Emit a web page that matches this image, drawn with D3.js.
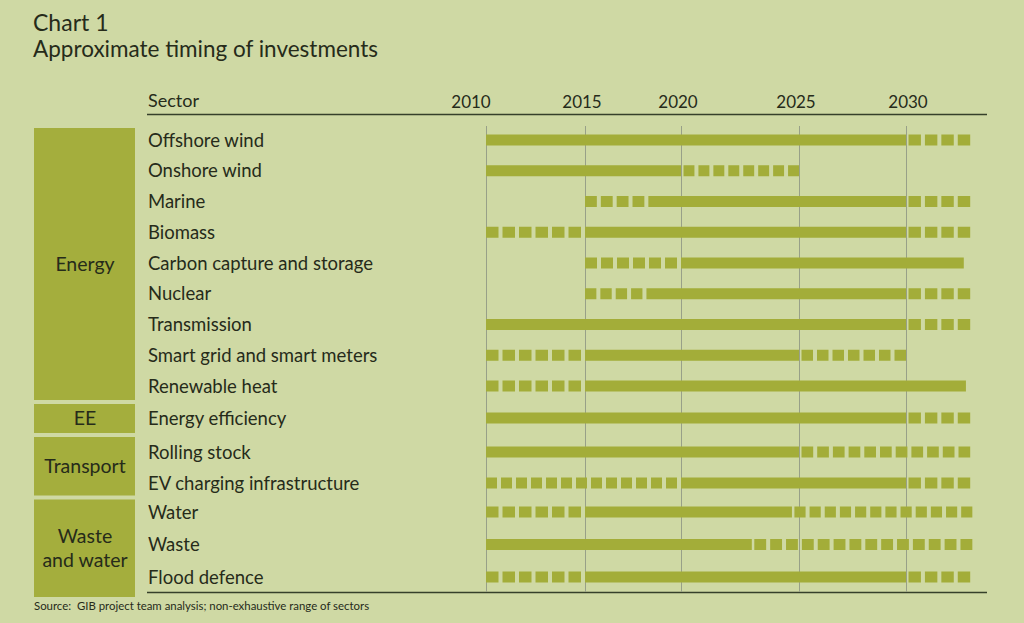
<!DOCTYPE html>
<html><head><meta charset="utf-8">
<script src="https://cdn.jsdelivr.net/npm/d3@7"></script>
<style>
html,body{margin:0;padding:0;background:#cfd9a4;}
svg{display:block;}
text{font-family:Lato,"Open Sans",sans-serif;fill:#262b1a;}
</style></head><body>
<svg id="c" width="1024" height="623"></svg>
<script>
// ---------- data ----------
const sectors = ["Offshore wind","Onshore wind","Marine","Biomass","Carbon capture and storage","Nuclear","Transmission","Smart grid and smart meters","Renewable heat","Energy efficiency","Rolling stock","EV charging infrastructure","Water","Waste","Flood defence"];
const groupNames = [["Energy"],["EE"],["Transport"],["Waste","and water"]];
const groupFirst = [0, 9, 10, 12];
const groupLast  = [8, 9, 11, 14];
const yearTicks = [2010, 2015, 2020, 2025, 2030];
// phases per sector: [startYear, endYear, kind] kind: "s" solid, "d" dotted
const phases = [
  [[2010,2030,"s"],[2030,2033,"d"]],
  [[2010,2020,"s"],[2020,2025,"d"]],
  [[2015,2018.3,"d"],[2018.3,2030,"s"],[2030,2033,"d"]],
  [[2010,2015,"d"],[2015,2030,"s"],[2030,2033,"d"]],
  [[2015,2020,"d"],[2020,2032.7,"s"]],
  [[2015,2018.2,"d"],[2018.2,2030,"s"],[2030,2033,"d"]],
  [[2010,2030,"s"],[2030,2033,"d"]],
  [[2010,2015,"d"],[2015,2025,"s"],[2025,2030,"d"]],
  [[2010,2015,"d"],[2015,2032.8,"s"]],
  [[2010,2030,"s"],[2030,2033,"d"]],
  [[2010,2025,"s"],[2025,2033,"d"]],
  [[2010,2020,"d"],[2020,2030,"s"],[2030,2033,"d"]],
  [[2010,2015,"d"],[2015,2024.7,"s"],[2024.7,2033.1,"d"]],
  [[2010,2023,"s"],[2023,2033.1,"d"]],
  [[2010,2015,"d"],[2015,2030,"s"],[2030,2033,"d"]]
];
const titleText = "Chart 1";
const subtitleText = "Approximate timing of investments";
const sourceText = "Source:\u00a0\u00a0GIB project team analysis; non-exhaustive range of sectors";

// ---------- layout ----------
const svg = d3.select("#c");
const barColor = "#a3ad39";
const boxColor = "#a4ae3d";
const x = d3.scaleLinear().domain([2010,2015,2020,2025,2030,2035]).range([486,585,681,799,906,1013]);
const y = d3.scaleLinear().domain([0,8,9,10,11,12,14]).range([140,386,418,452,483,512,577]);
const barH = 11;

svg.append("text").attr("x",33).attr("y",31).style("font-size","23px").text(titleText);
svg.append("text").attr("x",33).attr("y",57).style("font-size","22.5px").text(subtitleText);

// header
svg.append("text").attr("x",148).attr("y",107).style("font-size","18px").text("Sector");
svg.selectAll("text.year").data(yearTicks).join("text").attr("class","year")
  .attr("x",(d,i)=>x(d) + (i===0 ? -15 : (i===4 ? 2 : -3))).attr("y",108).attr("text-anchor","middle")
  .style("font-size","17px").text(d=>d);
svg.append("line").attr("x1",147).attr("x2",987).attr("y1",114.5).attr("y2",114.5)
  .attr("stroke","#36402a").attr("stroke-width",1.3);
svg.append("line").attr("x1",147).attr("x2",987).attr("y1",592.5).attr("y2",592.5)
  .attr("stroke","#36402a").attr("stroke-width",1.3);

// grid
svg.selectAll("line.grid").data(yearTicks).join("line").attr("class","grid")
  .attr("x1",d=>Math.round(x(d))+0.5).attr("x2",d=>Math.round(x(d))+0.5)
  .attr("y1",126).attr("y2",592).attr("stroke","#98a088").attr("stroke-width",1);

// group boxes
const boxTop = (g)=> g===0 ? y(groupFirst[g])-12 : (y(groupLast[g-1])+y(groupFirst[g]))/2+2;
const boxBot = (g)=> g===groupNames.length-1 ? y(groupLast[g])+20 : (y(groupLast[g])+y(groupFirst[g+1]))/2-2;
groupNames.forEach((nm,g)=>{
  const t = boxTop(g), b = boxBot(g);
  svg.append("rect").attr("x",34).attr("y",t).attr("width",101).attr("height",b-t).attr("fill",boxColor);
  const cy = (t+b)/2, lh = 24;
  nm.forEach((line,k)=>{
    svg.append("text").attr("x",85).attr("y",cy + (k-(nm.length-1)/2)*lh + 6.5)
      .attr("text-anchor","middle").style("font-size","19.5px").text(line);
  });
});

// sector labels
svg.selectAll("text.sector").data(sectors).join("text").attr("class","sector")
  .attr("x",148).attr("y",(d,i)=>y(i)+6.5).style("font-size","18.5px").text(d=>d);

// bars
const sq = 11.5, gap = 4;
phases.forEach((row,i)=>{
  const g = svg.append("g");
  row.forEach((p,k)=>{
    const [a,b,kind] = p;
    if (kind==="s") {
      g.append("rect").attr("x",x(a)).attr("y",y(i)-barH/2).attr("width",x(b)-x(a)).attr("height",barH).attr("fill",barColor);
    } else {
      const prevSolid = k>0 && row[k-1][2]==="s";
      const nextSolid = k<row.length-1 && row[k+1][2]==="s";
      const xs = x(a) + (prevSolid ? 2.5 : 0);
      const xe = x(b) - (nextSolid ? 4 : 0);
      const len = xe - xs;
      const n = Math.max(1, Math.round((len+gap)/(sq+gap)));
      const dash = (len-(n-1)*gap)/n;
      g.append("line").attr("x1",xs).attr("x2",xe).attr("y1",y(i)).attr("y2",y(i))
        .attr("stroke",barColor).attr("stroke-width",barH)
        .attr("stroke-dasharray",`${dash} ${gap}`);
    }
  });
});

svg.append("text").attr("x",34).attr("y",610).style("font-size","11.4px").text(sourceText);
</script>
</body></html>
